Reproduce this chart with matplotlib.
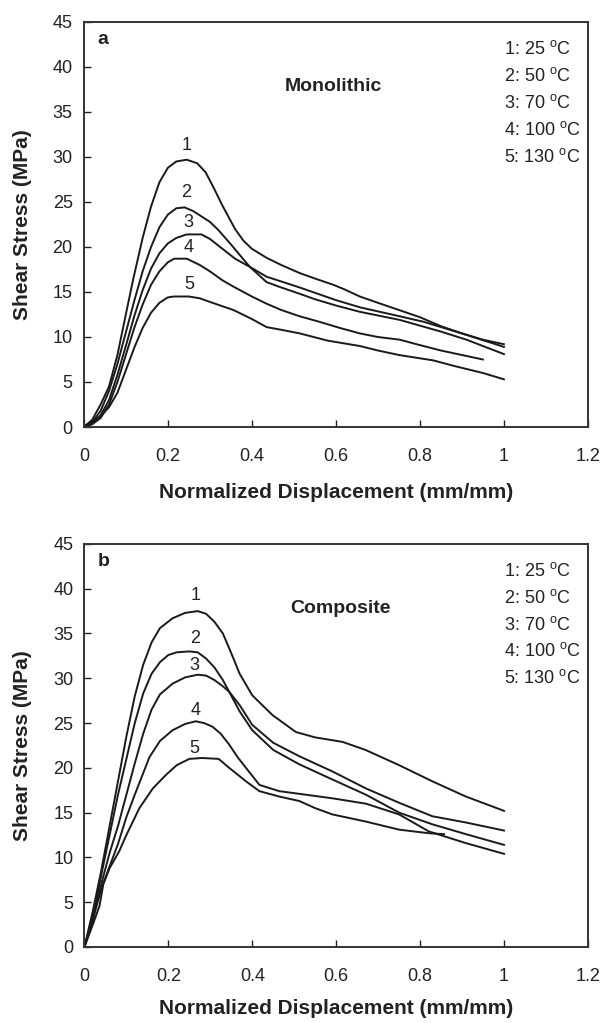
import matplotlib
matplotlib.use("Agg")
import matplotlib.pyplot as plt

plt.rcParams['font.family'] = ['Liberation Sans', 'DejaVu Sans']

# ---- panel a: Monolithic ----
a1_x = [0, 0.02, 0.04, 0.06, 0.08, 0.10, 0.117, 0.14, 0.16, 0.18, 0.20, 0.22, 0.245, 0.27, 0.29, 0.31, 0.33, 0.36, 0.38, 0.40, 0.435, 0.47, 0.514, 0.55, 0.594, 0.62, 0.657, 0.70, 0.75, 0.80, 0.85, 0.90, 0.95, 1.0]
a1_y = [0, 0.8, 2.5, 4.5, 8.0, 12.5, 16.3, 21.0, 24.5, 27.2, 28.8, 29.5, 29.7, 29.3, 28.3, 26.5, 24.6, 22.0, 20.7, 19.8, 18.8, 18.0, 17.1, 16.5, 15.8, 15.3, 14.5, 13.8, 13.0, 12.2, 11.2, 10.4, 9.7, 9.2]
a2_x = [0, 0.02, 0.04, 0.06, 0.08, 0.10, 0.12, 0.14, 0.16, 0.18, 0.20, 0.22, 0.24, 0.26, 0.28, 0.30, 0.32, 0.35, 0.375, 0.395, 0.435, 0.47, 0.514, 0.55, 0.60, 0.657, 0.752, 0.85, 0.911, 1.0]
a2_y = [0, 0.5, 1.8, 4.0, 7.0, 10.5, 14.0, 17.3, 20.0, 22.2, 23.6, 24.3, 24.4, 24.0, 23.4, 22.8, 21.9, 20.3, 18.9, 17.8, 16.1, 15.5, 14.8, 14.2, 13.5, 12.8, 11.9, 10.6, 9.7, 8.1]
a3_x = [0, 0.02, 0.04, 0.06, 0.08, 0.10, 0.12, 0.14, 0.16, 0.18, 0.20, 0.22, 0.245, 0.28, 0.30, 0.33, 0.36, 0.395, 0.435, 0.514, 0.60, 0.657, 0.752, 0.808, 0.90, 1.0]
a3_y = [0, 0.4, 1.3, 3.0, 5.8, 9.0, 12.3, 15.2, 17.6, 19.3, 20.4, 21.0, 21.4, 21.4, 20.9, 19.8, 18.7, 17.8, 16.7, 15.5, 14.1, 13.3, 12.3, 11.7, 10.4, 8.9]
a4_x = [0, 0.02, 0.04, 0.06, 0.08, 0.10, 0.12, 0.14, 0.16, 0.18, 0.20, 0.215, 0.245, 0.276, 0.30, 0.33, 0.356, 0.40, 0.435, 0.47, 0.514, 0.56, 0.61, 0.657, 0.70, 0.752, 0.80, 0.85, 0.90, 0.95]
a4_y = [0, 0.3, 1.0, 2.5, 5.0, 8.0, 11.0, 13.6, 15.8, 17.3, 18.3, 18.7, 18.7, 18.0, 17.3, 16.3, 15.6, 14.5, 13.7, 13.0, 12.3, 11.7, 11.0, 10.4, 10.0, 9.7, 9.1, 8.5, 8.0, 7.5]
a5_x = [0, 0.02, 0.04, 0.06, 0.08, 0.10, 0.12, 0.14, 0.16, 0.18, 0.20, 0.215, 0.25, 0.276, 0.30, 0.356, 0.40, 0.435, 0.47, 0.514, 0.58, 0.657, 0.70, 0.75, 0.832, 0.88, 0.95, 1.0]
a5_y = [0, 0.6, 1.2, 2.2, 3.8, 6.3, 8.8, 11.0, 12.7, 13.8, 14.4, 14.5, 14.5, 14.3, 13.9, 13.0, 12.0, 11.1, 10.8, 10.4, 9.6, 9.0, 8.5, 8.0, 7.4, 6.8, 6.0, 5.3]

# ---- panel b: Composite ----
b1_x = [0, 0.02, 0.04, 0.06, 0.08, 0.10, 0.12, 0.14, 0.16, 0.18, 0.21, 0.24, 0.27, 0.29, 0.31, 0.33, 0.35, 0.37, 0.40, 0.448, 0.504, 0.55, 0.615, 0.67, 0.75, 0.829, 0.909, 1.0]
b1_y = [0, 4.0, 8.5, 13.5, 18.5, 23.5, 28.0, 31.5, 34.0, 35.6, 36.7, 37.3, 37.5, 37.2, 36.3, 35.0, 32.8, 30.5, 28.1, 25.9, 24.0, 23.4, 22.9, 22.0, 20.3, 18.5, 16.8, 15.2]
b2_x = [0, 0.02, 0.04, 0.06, 0.08, 0.10, 0.12, 0.14, 0.16, 0.18, 0.20, 0.22, 0.25, 0.27, 0.29, 0.31, 0.33, 0.345, 0.37, 0.40, 0.45, 0.512, 0.591, 0.671, 0.75, 0.829, 0.909, 1.0]
b2_y = [0, 3.5, 8.0, 12.5, 17.0, 21.0, 25.0, 28.3, 30.5, 31.8, 32.6, 32.9, 33.0, 32.9, 32.2, 31.2, 29.8, 28.5, 26.3, 24.2, 22.0, 20.4, 18.7, 17.0, 15.0, 13.7, 12.6, 11.4]
b3_x = [0, 0.02, 0.04, 0.06, 0.08, 0.10, 0.12, 0.14, 0.16, 0.18, 0.21, 0.24, 0.27, 0.29, 0.31, 0.33, 0.345, 0.37, 0.40, 0.45, 0.512, 0.591, 0.671, 0.75, 0.829, 0.909, 1.0]
b3_y = [0, 3.2, 7.0, 10.5, 13.5, 17.0, 20.5, 23.8, 26.5, 28.2, 29.4, 30.1, 30.4, 30.3, 29.8, 29.1, 28.5, 27.0, 24.8, 22.8, 21.3, 19.6, 17.7, 16.1, 14.6, 13.9, 13.0]
b4_x = [0, 0.02, 0.04, 0.06, 0.08, 0.10, 0.12, 0.155, 0.18, 0.21, 0.24, 0.265, 0.285, 0.305, 0.325, 0.345, 0.365, 0.385, 0.417, 0.464, 0.512, 0.591, 0.671, 0.75, 0.821, 0.909, 1.0]
b4_y = [0, 3.0, 6.5, 9.0, 11.5, 14.5, 17.0, 21.2, 23.0, 24.2, 24.9, 25.2, 25.0, 24.6, 23.8, 22.6, 21.2, 20.0, 18.1, 17.4, 17.1, 16.6, 16.0, 14.8, 12.9, 11.6, 10.4]
b5_x = [0, 0.02, 0.036, 0.045, 0.06, 0.083, 0.10, 0.131, 0.163, 0.194, 0.22, 0.25, 0.28, 0.32, 0.345, 0.385, 0.417, 0.464, 0.512, 0.55, 0.591, 0.671, 0.75, 0.821, 0.857]
b5_y = [0, 2.5, 4.6, 7.0, 8.8, 10.7, 12.5, 15.5, 17.7, 19.2, 20.3, 21.0, 21.1, 21.0, 20.0, 18.5, 17.4, 16.8, 16.3, 15.5, 14.8, 14.0, 13.1, 12.7, 12.6]

# curve number labels (x, y)
a_lbl_x = [0.244, 0.244, 0.25, 0.25, 0.252]
a_lbl_y = [31.3, 26.0, 22.7, 19.9, 15.8]
b_lbl_x = [0.264, 0.264, 0.262, 0.265, 0.262]
b_lbl_y = [39.2, 34.4, 31.4, 26.4, 22.2]

temps = ['1: 25', '2: 50', '3: 70', '4: 100', '5: 130']
xticks = [0, 0.2, 0.4, 0.6, 0.8, 1.0, 1.2]
xticklabels = ['0', '0.2', '0.4', '0.6', '0.8', '1', '1.2']
yticks = list(range(0, 50, 5))

fig = plt.figure(figsize=(6.03, 10.23), dpi=100)
ax_a = fig.add_axes([0.139, 0.5826, 0.836, 0.3959])
ax_b = fig.add_axes([0.140, 0.0743, 0.835, 0.3940])

panels = [
    (ax_a, [(a1_x, a1_y), (a2_x, a2_y), (a3_x, a3_y), (a4_x, a4_y), (a5_x, a5_y)],
     a_lbl_x, a_lbl_y, 'a', 'Monolithic', 0.478, 13),
    (ax_b, [(b1_x, b1_y), (b2_x, b2_y), (b3_x, b3_y), (b4_x, b4_y), (b5_x, b5_y)],
     b_lbl_x, b_lbl_y, 'b', 'Composite', 0.49, 10),
]

for ax, curves, lx, ly, tag, title, tx, xpad in panels:
    for cx, cy in curves:
        ax.plot(cx, cy, color='#1a1a1a', lw=1.4)
    for i in range(5):
        ax.text(lx[i], ly[i], str(i + 1), fontsize=13, ha='center', va='center',
                color='#222222')
    for i, t in enumerate(temps):
        ax.text(1.0, 42.0 - 3.0 * i, t + r' $^{\mathregular{o}}$C', fontsize=13,
                ha='left', va='center', color='#222222')
    ax.text(0.045, 43.0, tag, fontsize=14, fontweight='bold', ha='center', va='center',
            color='#222222')
    ax.text(tx, 37.8, title, fontsize=14, fontweight='bold', ha='left', va='center',
            color='#222222')
    ax.set_xlim(0, 1.2)
    ax.set_ylim(0, 45)
    ax.set_xticks(xticks)
    ax.set_xticklabels(xticklabels)
    ax.set_yticks(yticks)
    ax.tick_params(direction='in', length=5, width=1, labelsize=13, colors='#222222')
    ax.tick_params(axis='x', pad=15)
    ax.tick_params(axis='y', pad=8)
    for s in ax.spines.values():
        s.set_linewidth(1.4)
        s.set_color('#333333')
    ax.set_xlabel('Normalized Displacement (mm/mm)', fontsize=15, fontweight='bold',
                  labelpad=xpad, color='#222222')
    ax.set_ylabel('Shear Stress (MPa)', fontsize=15, fontweight='bold', labelpad=15,
                  color='#222222')

fig.savefig('out.png', dpi=100)
